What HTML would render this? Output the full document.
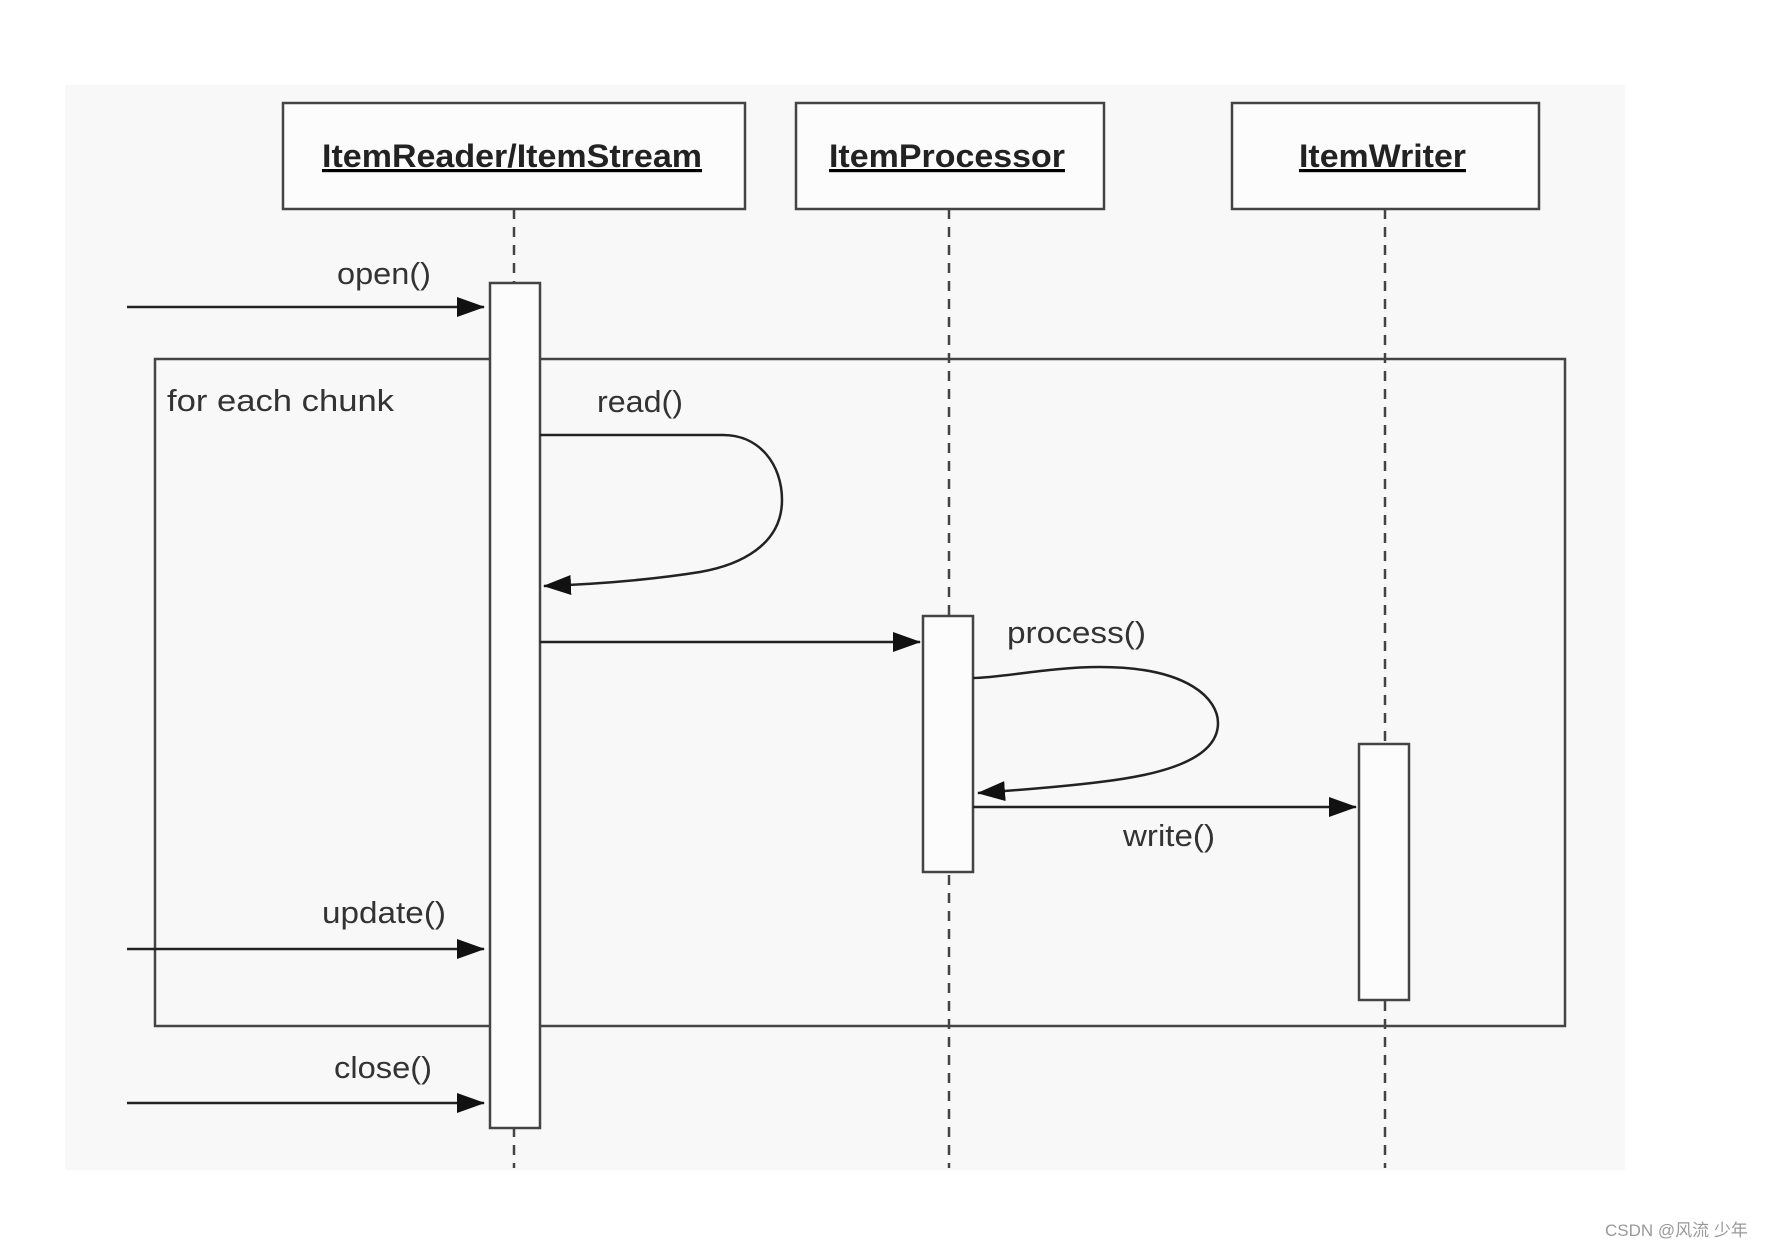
<!DOCTYPE html>
<html><head><meta charset="utf-8"><style>
html,body{margin:0;padding:0;background:#fff;}
svg{display:block;}
text{font-family:"Liberation Sans",Arial,sans-serif;fill:#333;}
</style></head><body>
<svg width="1772" height="1248" viewBox="0 0 1772 1248" xmlns="http://www.w3.org/2000/svg">
<defs>
<marker id="ab" markerWidth="28" markerHeight="20" refX="27" refY="10" orient="auto" markerUnits="userSpaceOnUse">
<path d="M0,0 L28,10 L0,20 z" fill="#111"/>
</marker>
</defs>
<rect x="0" y="0" width="1772" height="1248" fill="#fff"/>
<rect x="65" y="85" width="1560" height="1085" fill="#f8f8f8"/>
<g stroke="#444" stroke-width="2.5" fill="#fcfcfc">
<rect x="283" y="103" width="462" height="106"/>
<rect x="796" y="103" width="308" height="106"/>
<rect x="1232" y="103" width="307" height="106"/>
</g>
<g font-size="32" font-weight="bold" text-decoration="underline">
<text x="322" y="167" textLength="380" lengthAdjust="spacingAndGlyphs" style="fill:#222">ItemReader/ItemStream</text>
<text x="829" y="167" textLength="236" lengthAdjust="spacingAndGlyphs" style="fill:#222">ItemProcessor</text>
<text x="1299" y="167" textLength="167" lengthAdjust="spacingAndGlyphs" style="fill:#222">ItemWriter</text>
</g>
<g stroke="#444" stroke-width="2.5" stroke-dasharray="10,8">
<line x1="514" y1="209" x2="514" y2="1168"/>
<line x1="949" y1="209" x2="949" y2="1168"/>
<line x1="1385" y1="209" x2="1385" y2="1168"/>
</g>
<rect x="155" y="359" width="1410" height="667" fill="none" stroke="#444" stroke-width="2.5"/>
<g stroke="#444" stroke-width="2.5" fill="#fcfcfc">
<rect x="490" y="283" width="50" height="845"/>
<rect x="923" y="616" width="50" height="256"/>
<rect x="1359" y="744" width="50" height="256"/>
</g>
<g stroke="#222" stroke-width="2.5" fill="none">
<line x1="127" y1="307" x2="484" y2="307" marker-end="url(#ab)"/>
<line x1="127" y1="949" x2="484" y2="949" marker-end="url(#ab)"/>
<line x1="127" y1="1103" x2="484" y2="1103" marker-end="url(#ab)"/>
<line x1="540" y1="642" x2="920" y2="642" marker-end="url(#ab)"/>
<line x1="973" y1="807" x2="1356" y2="807" marker-end="url(#ab)"/>
<path d="M540,435 L723,435 C760,435 782,465 782,500 C782,545 740,565 700,572 C650,580 600,584 544,586" marker-end="url(#ab)"/>
<path d="M973,678 C1000,678 1050,667 1100,667 C1190,667 1218,700 1218,723 C1218,760 1160,775 1100,782 C1060,787 1020,790 978,793" marker-end="url(#ab)"/>
</g>
<g font-size="31">
<text x="337" y="284" textLength="94" lengthAdjust="spacingAndGlyphs">open()</text>
<text x="167" y="411" textLength="227" lengthAdjust="spacingAndGlyphs">for each chunk</text>
<text x="597" y="412" textLength="86" lengthAdjust="spacingAndGlyphs">read()</text>
<text x="1007" y="643" textLength="139" lengthAdjust="spacingAndGlyphs">process()</text>
<text x="1123" y="846" textLength="92" lengthAdjust="spacingAndGlyphs">write()</text>
<text x="322" y="923" textLength="124" lengthAdjust="spacingAndGlyphs">update()</text>
<text x="334" y="1078" textLength="98" lengthAdjust="spacingAndGlyphs">close()</text>
</g>
<text x="1605" y="1236" font-size="17" style="fill:#999;font-family:'Liberation Sans','Noto Sans CJK SC',sans-serif">CSDN @风流 少年</text>
</svg>
</body></html>
